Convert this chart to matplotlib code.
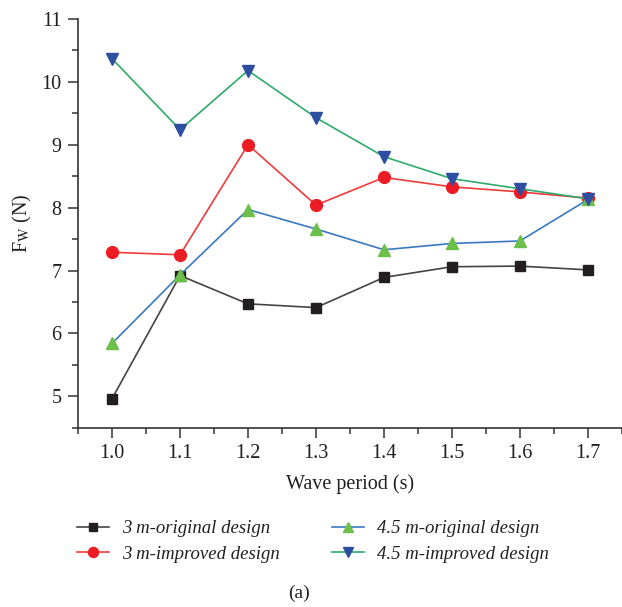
import matplotlib
matplotlib.use("Agg")
import matplotlib.pyplot as plt
from matplotlib.ticker import MultipleLocator

periods = [1.0, 1.1, 1.2, 1.3, 1.4, 1.5, 1.6, 1.7]
orig_3m = [4.96, 6.92, 6.47, 6.41, 6.89, 7.06, 7.07, 7.01]
impr_3m = [7.29, 7.25, 9.00, 8.04, 8.48, 8.33, 8.25, 8.15]
orig_45m = [5.84, 6.93, 7.97, 7.66, 7.33, 7.43, 7.47, 8.13]
impr_45m = [10.37, 9.24, 10.18, 9.43, 8.81, 8.46, 8.30, 8.14]

labels = ["3 m-original design", "3 m-improved design",
          "4.5 m-original design", "4.5 m-improved design"]

plt.rcParams['font.family'] = ['Liberation Serif', 'DejaVu Serif']
plt.rcParams['mathtext.fontset'] = 'stix'

fig = plt.figure(figsize=(6.22, 6.07), dpi=100)
ax = fig.add_axes([0.1254, 0.2954, 0.8746, 0.6733])

ax.plot(periods, orig_3m, color='#444444', lw=1.2, marker='s', ms=7.5,
        mfc='#231f20', mec='#231f20', label=labels[0])
ax.plot(periods, impr_3m, color='#ee3b3b', lw=1.2, marker='o', ms=8.5,
        mfc='#ed1c24', mec='#ed1c24', label=labels[1])
ax.plot(periods, orig_45m, color='#3a78c2', lw=1.2, marker='^', ms=9,
        mfc='#6cbf4a', mec='#6cbf4a', label=labels[2])
ax.plot(periods, impr_45m, color='#2eaa6a', lw=1.2, marker='v', ms=9,
        mfc='#2e4fa0', mec='#2e4fa0', label=labels[3])

ax.set_xlim(0.95, 1.75)
ax.set_ylim(4.5, 11)
ax.xaxis.set_major_locator(MultipleLocator(0.1))
ax.xaxis.set_minor_locator(MultipleLocator(0.05))
ax.yaxis.set_major_locator(MultipleLocator(1))
ax.yaxis.set_minor_locator(MultipleLocator(0.5))
ax.set_xticks(periods)
ax.set_xticklabels([f"{p:.1f}" for p in periods])

for s in ['top', 'right']:
    ax.spines[s].set_visible(False)
for s in ['left', 'bottom']:
    ax.spines[s].set_color('#333333')
    ax.spines[s].set_linewidth(1.2)

ax.tick_params(which='major', direction='out', length=7, width=1.1,
               color='#333333', labelsize=14.5, labelcolor='#231f20', pad=5)
ax.tick_params(which='minor', direction='out', length=4, width=1.1, color='#333333')

ax.set_xlabel("Wave period (s)", fontsize=14.5, color='#231f20', labelpad=8)
ax.set_ylabel(r"F$_\mathrm{W}$ (N)", fontsize=14.5, color='#231f20', labelpad=5)

leg = fig.legend(loc='upper left', bbox_to_anchor=(0.124, 0.143), ncol=2,
                 frameon=False, prop={'style': 'italic', 'size': 13.5},
                 handlelength=1.7, handletextpad=0.7, columnspacing=2.8,
                 labelspacing=0.45, borderpad=0, borderaxespad=0,
                 markerscale=0.85)
for t in leg.get_texts():
    t.set_color('#231f20')

fig.text(0.48, 0.023, "(a)", fontsize=14, ha='center', va='center', color='#231f20')

fig.savefig("out.png", dpi=100)
